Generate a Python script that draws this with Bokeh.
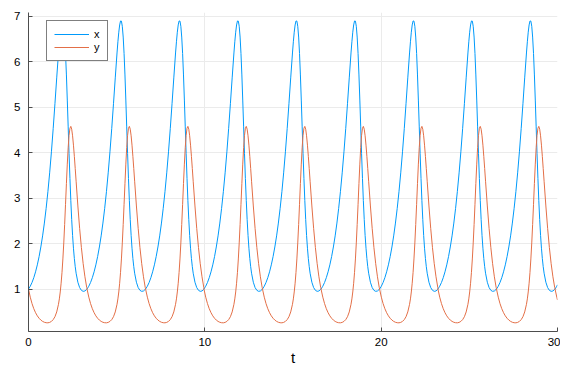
from bokeh.plotting import figure
from bokeh.models import Range1d, Legend, LegendItem, FixedTicker
from bokeh.embed import file_html
from bokeh.resources import INLINE

# ---- data (x = prey, y = predator) ----
t_values = [
    0.00, 0.10, 0.20, 0.30, 0.40, 0.50, 0.60, 0.70, 0.80, 0.90, 1.00, 1.10, 1.20, 1.30, 1.40, 1.50, 1.60, 1.70, 1.75, 1.80, 1.85, 1.90, 1.95, 2.00, 2.05, 2.10, 2.15, 2.20, 2.25, 2.30, 2.35, 2.40, 2.45, 2.50, 2.55, 2.60, 2.65, 2.70, 2.80, 2.90, 3.00, 3.10, 3.20, 3.30,
    3.32, 3.42, 3.52, 3.62, 3.72, 3.82, 3.92, 4.02, 4.12, 4.22, 4.32, 4.42, 4.52, 4.62, 4.72, 4.82, 4.92, 5.02, 5.07, 5.12, 5.17, 5.22, 5.27, 5.32, 5.37, 5.42, 5.47, 5.52, 5.57, 5.62, 5.67, 5.72, 5.77, 5.82, 5.87, 5.92, 5.97, 6.02, 6.12, 6.22, 6.32, 6.42, 6.52, 6.62,
    6.64, 6.74, 6.84, 6.94, 7.04, 7.14, 7.24, 7.34, 7.44, 7.54, 7.64, 7.74, 7.84, 7.94, 8.04, 8.14, 8.24, 8.34, 8.39, 8.44, 8.49, 8.54, 8.59, 8.64, 8.69, 8.74, 8.79, 8.84, 8.89, 8.94, 8.99, 9.04, 9.09, 9.14, 9.19, 9.24, 9.29, 9.34, 9.44, 9.54, 9.64, 9.74, 9.84, 9.94,
    9.95, 10.05, 10.15, 10.25, 10.35, 10.45, 10.55, 10.65, 10.75, 10.85, 10.95, 11.05, 11.15, 11.25, 11.35, 11.45, 11.55, 11.65, 11.70, 11.75, 11.80, 11.85, 11.90, 11.95, 12.00, 12.05, 12.10, 12.15, 12.20, 12.25, 12.30, 12.35, 12.40, 12.45, 12.50, 12.55, 12.60, 12.65, 12.75, 12.85, 12.95, 13.05, 13.15, 13.25,
    13.27, 13.37, 13.47, 13.57, 13.67, 13.77, 13.87, 13.97, 14.07, 14.17, 14.27, 14.37, 14.47, 14.57, 14.67, 14.77, 14.87, 14.97, 15.02, 15.07, 15.12, 15.17, 15.22, 15.27, 15.32, 15.37, 15.42, 15.47, 15.52, 15.57, 15.62, 15.67, 15.72, 15.77, 15.82, 15.87, 15.92, 15.97, 16.07, 16.17, 16.27, 16.37, 16.47, 16.57,
    16.59, 16.69, 16.79, 16.89, 16.99, 17.09, 17.19, 17.29, 17.39, 17.49, 17.59, 17.69, 17.79, 17.89, 17.99, 18.09, 18.19, 18.29, 18.34, 18.39, 18.44, 18.49, 18.54, 18.59, 18.64, 18.69, 18.74, 18.79, 18.84, 18.89, 18.94, 18.99, 19.04, 19.09, 19.14, 19.19, 19.24, 19.29, 19.39, 19.49, 19.59, 19.69, 19.79, 19.89,
    19.91, 20.01, 20.11, 20.21, 20.31, 20.41, 20.51, 20.61, 20.71, 20.81, 20.91, 21.01, 21.11, 21.21, 21.31, 21.41, 21.51, 21.61, 21.66, 21.71, 21.76, 21.81, 21.86, 21.91, 21.96, 22.01, 22.06, 22.11, 22.16, 22.21, 22.26, 22.31, 22.36, 22.41, 22.46, 22.51, 22.56, 22.61, 22.71, 22.81, 22.91, 23.01, 23.11, 23.21,
    23.22, 23.32, 23.42, 23.52, 23.62, 23.72, 23.82, 23.92, 24.02, 24.12, 24.22, 24.32, 24.42, 24.52, 24.62, 24.72, 24.82, 24.92, 24.97, 25.02, 25.07, 25.12, 25.17, 25.22, 25.27, 25.32, 25.37, 25.42, 25.47, 25.52, 25.57, 25.62, 25.67, 25.72, 25.77, 25.82, 25.87, 25.92, 26.02, 26.12, 26.22, 26.32, 26.42, 26.52,
    26.54, 26.64, 26.74, 26.84, 26.94, 27.04, 27.14, 27.24, 27.34, 27.44, 27.54, 27.64, 27.74, 27.84, 27.94, 28.04, 28.14, 28.24, 28.29, 28.34, 28.39, 28.44, 28.49, 28.54, 28.59, 28.64, 28.69, 28.74, 28.79, 28.84, 28.89, 28.94, 28.99, 29.04, 29.09, 29.14, 29.19, 29.24, 29.34, 29.44, 29.54, 29.64, 29.74, 29.84,
    29.86, 29.96, 30.00,
]

x_values = [
    1.000, 1.061, 1.144, 1.249, 1.378, 1.531, 1.712, 1.924, 2.168, 2.450, 2.773, 3.140, 3.554, 4.017, 4.526, 5.074, 5.642, 6.190, 6.436, 6.647, 6.806, 6.894, 6.891, 6.777, 6.540, 6.179, 5.707, 5.155, 4.565, 3.977, 3.430, 2.942, 2.526, 2.179, 1.897, 1.671, 1.491, 1.348, 1.149, 1.032, 0.971, 0.949, 0.957, 0.992,
    1.000, 1.061, 1.144, 1.249, 1.378, 1.531, 1.712, 1.924, 2.168, 2.450, 2.773, 3.140, 3.554, 4.017, 4.526, 5.074, 5.642, 6.190, 6.436, 6.647, 6.806, 6.894, 6.891, 6.777, 6.540, 6.179, 5.707, 5.155, 4.565, 3.977, 3.430, 2.942, 2.526, 2.179, 1.897, 1.671, 1.491, 1.348, 1.149, 1.032, 0.971, 0.949, 0.957, 0.992,
    1.000, 1.061, 1.144, 1.249, 1.378, 1.531, 1.712, 1.924, 2.168, 2.450, 2.773, 3.140, 3.554, 4.017, 4.526, 5.074, 5.642, 6.190, 6.436, 6.647, 6.806, 6.894, 6.891, 6.777, 6.540, 6.179, 5.707, 5.155, 4.565, 3.977, 3.430, 2.942, 2.526, 2.179, 1.897, 1.671, 1.491, 1.348, 1.149, 1.032, 0.971, 0.949, 0.957, 0.992,
    1.000, 1.061, 1.144, 1.249, 1.378, 1.531, 1.712, 1.924, 2.168, 2.450, 2.773, 3.140, 3.554, 4.017, 4.526, 5.074, 5.642, 6.190, 6.436, 6.647, 6.806, 6.894, 6.891, 6.777, 6.540, 6.179, 5.707, 5.155, 4.565, 3.977, 3.430, 2.942, 2.526, 2.179, 1.897, 1.671, 1.491, 1.348, 1.149, 1.032, 0.971, 0.949, 0.957, 0.992,
    1.000, 1.061, 1.144, 1.249, 1.378, 1.531, 1.712, 1.924, 2.168, 2.450, 2.773, 3.140, 3.554, 4.017, 4.526, 5.074, 5.642, 6.190, 6.436, 6.647, 6.806, 6.894, 6.891, 6.777, 6.540, 6.179, 5.707, 5.155, 4.565, 3.977, 3.430, 2.942, 2.526, 2.179, 1.897, 1.671, 1.491, 1.348, 1.149, 1.032, 0.971, 0.949, 0.957, 0.992,
    1.000, 1.061, 1.144, 1.249, 1.378, 1.531, 1.712, 1.924, 2.168, 2.450, 2.773, 3.140, 3.554, 4.017, 4.526, 5.074, 5.642, 6.190, 6.436, 6.647, 6.806, 6.894, 6.891, 6.777, 6.540, 6.179, 5.707, 5.155, 4.565, 3.977, 3.430, 2.942, 2.526, 2.179, 1.897, 1.671, 1.491, 1.348, 1.149, 1.032, 0.971, 0.949, 0.957, 0.992,
    1.000, 1.061, 1.144, 1.249, 1.378, 1.531, 1.712, 1.924, 2.168, 2.450, 2.773, 3.140, 3.554, 4.017, 4.526, 5.074, 5.642, 6.190, 6.436, 6.647, 6.806, 6.894, 6.891, 6.777, 6.540, 6.179, 5.707, 5.155, 4.565, 3.977, 3.430, 2.942, 2.526, 2.179, 1.897, 1.671, 1.491, 1.348, 1.149, 1.032, 0.971, 0.949, 0.957, 0.992,
    1.000, 1.061, 1.144, 1.249, 1.378, 1.531, 1.712, 1.924, 2.168, 2.450, 2.773, 3.140, 3.554, 4.017, 4.526, 5.074, 5.642, 6.190, 6.436, 6.647, 6.806, 6.894, 6.891, 6.777, 6.540, 6.179, 5.707, 5.155, 4.565, 3.977, 3.430, 2.942, 2.526, 2.179, 1.897, 1.671, 1.491, 1.348, 1.149, 1.032, 0.971, 0.949, 0.957, 0.992,
    1.000, 1.061, 1.144, 1.249, 1.378, 1.531, 1.712, 1.924, 2.168, 2.450, 2.773, 3.140, 3.554, 4.017, 4.526, 5.074, 5.642, 6.190, 6.436, 6.647, 6.806, 6.894, 6.891, 6.777, 6.540, 6.179, 5.707, 5.155, 4.565, 3.977, 3.430, 2.942, 2.526, 2.179, 1.897, 1.671, 1.491, 1.348, 1.149, 1.032, 0.971, 0.949, 0.957, 0.992,
    1.000, 1.061, 1.093,
]

y_values = [
    1.000, 0.821, 0.679, 0.567, 0.479, 0.410, 0.357, 0.317, 0.288, 0.269, 0.259, 0.257, 0.266, 0.288, 0.327, 0.391, 0.496, 0.664, 0.783, 0.935, 1.127, 1.367, 1.661, 2.013, 2.419, 2.862, 3.317, 3.746, 4.111, 4.380, 4.535, 4.576, 4.514, 4.369, 4.163, 3.917, 3.648, 3.370, 2.826, 2.334, 1.910, 1.557, 1.269, 1.036,
    1.000, 0.821, 0.679, 0.567, 0.479, 0.410, 0.357, 0.317, 0.288, 0.269, 0.259, 0.257, 0.266, 0.288, 0.327, 0.391, 0.496, 0.664, 0.783, 0.935, 1.127, 1.367, 1.661, 2.013, 2.419, 2.862, 3.317, 3.746, 4.111, 4.380, 4.535, 4.576, 4.514, 4.369, 4.163, 3.917, 3.648, 3.370, 2.826, 2.334, 1.910, 1.557, 1.269, 1.036,
    1.000, 0.821, 0.679, 0.567, 0.479, 0.410, 0.357, 0.317, 0.288, 0.269, 0.259, 0.257, 0.266, 0.288, 0.327, 0.391, 0.496, 0.664, 0.783, 0.935, 1.127, 1.367, 1.661, 2.013, 2.419, 2.862, 3.317, 3.746, 4.111, 4.380, 4.535, 4.576, 4.514, 4.369, 4.163, 3.917, 3.648, 3.370, 2.826, 2.334, 1.910, 1.557, 1.269, 1.036,
    1.000, 0.821, 0.679, 0.567, 0.479, 0.410, 0.357, 0.317, 0.288, 0.269, 0.259, 0.257, 0.266, 0.288, 0.327, 0.391, 0.496, 0.664, 0.783, 0.935, 1.127, 1.367, 1.661, 2.013, 2.419, 2.862, 3.317, 3.746, 4.111, 4.380, 4.535, 4.576, 4.514, 4.369, 4.163, 3.917, 3.648, 3.370, 2.826, 2.334, 1.910, 1.557, 1.269, 1.036,
    1.000, 0.821, 0.679, 0.567, 0.479, 0.410, 0.357, 0.317, 0.288, 0.269, 0.259, 0.257, 0.266, 0.288, 0.327, 0.391, 0.496, 0.664, 0.783, 0.935, 1.127, 1.367, 1.661, 2.013, 2.419, 2.862, 3.317, 3.746, 4.111, 4.380, 4.535, 4.576, 4.514, 4.369, 4.163, 3.917, 3.648, 3.370, 2.826, 2.334, 1.910, 1.557, 1.269, 1.036,
    1.000, 0.821, 0.679, 0.567, 0.479, 0.410, 0.357, 0.317, 0.288, 0.269, 0.259, 0.257, 0.266, 0.288, 0.327, 0.391, 0.496, 0.664, 0.783, 0.935, 1.127, 1.367, 1.661, 2.013, 2.419, 2.862, 3.317, 3.746, 4.111, 4.380, 4.535, 4.576, 4.514, 4.369, 4.163, 3.917, 3.648, 3.370, 2.826, 2.334, 1.910, 1.557, 1.269, 1.036,
    1.000, 0.821, 0.679, 0.567, 0.479, 0.410, 0.357, 0.317, 0.288, 0.269, 0.259, 0.257, 0.266, 0.288, 0.327, 0.391, 0.496, 0.664, 0.783, 0.935, 1.127, 1.367, 1.661, 2.013, 2.419, 2.862, 3.317, 3.746, 4.111, 4.380, 4.535, 4.576, 4.514, 4.369, 4.163, 3.917, 3.648, 3.370, 2.826, 2.334, 1.910, 1.557, 1.269, 1.036,
    1.000, 0.821, 0.679, 0.567, 0.479, 0.410, 0.357, 0.317, 0.288, 0.269, 0.259, 0.257, 0.266, 0.288, 0.327, 0.391, 0.496, 0.664, 0.783, 0.935, 1.127, 1.367, 1.661, 2.013, 2.419, 2.862, 3.317, 3.746, 4.111, 4.380, 4.535, 4.576, 4.514, 4.369, 4.163, 3.917, 3.648, 3.370, 2.826, 2.334, 1.910, 1.557, 1.269, 1.036,
    1.000, 0.821, 0.679, 0.567, 0.479, 0.410, 0.357, 0.317, 0.288, 0.269, 0.259, 0.257, 0.266, 0.288, 0.327, 0.391, 0.496, 0.664, 0.783, 0.935, 1.127, 1.367, 1.661, 2.013, 2.419, 2.862, 3.317, 3.746, 4.111, 4.380, 4.535, 4.576, 4.514, 4.369, 4.163, 3.917, 3.648, 3.370, 2.826, 2.334, 1.910, 1.557, 1.269, 1.036,
    1.000, 0.821, 0.758,
]

series_names = ["x", "y"]
series_colors = ["#009AFA", "#E36F47"]
x_ticks = [0, 10, 20, 30]
y_ticks = [1, 2, 3, 4, 5, 6, 7]
x_label = "t"

FONT = "Liberation Sans"

p = figure(
    width=560, height=368,
    output_backend="svg", toolbar_location=None,
    x_range=Range1d(0, 30), y_range=Range1d(0.066, 7.08),
    min_border_left=28, min_border_right=3, min_border_top=12, min_border_bottom=37,
)
p.background_fill_color = "white"
p.border_fill_color = "white"
p.outline_line_color = None

r1 = p.line(t_values, x_values, line_color=series_colors[0], line_width=1, line_join="round")
r2 = p.line(t_values, y_values, line_color=series_colors[1], line_width=1, line_join="round")

p.xaxis.ticker = FixedTicker(ticks=x_ticks)
p.yaxis.ticker = FixedTicker(ticks=y_ticks)
for ax in (p.xaxis[0], p.yaxis[0]):
    ax.major_tick_in = 4
    ax.major_tick_out = 0
    ax.minor_tick_line_color = None
    ax.axis_line_color = "#4d4d4d"
    ax.axis_line_width = 1
    ax.major_tick_line_color = "#4d4d4d"
    ax.major_label_text_font = FONT
    ax.major_label_text_font_size = "11.5px"
    ax.major_label_text_color = "black"
p.yaxis.major_label_standoff = 8
p.xaxis.major_label_standoff = 6
p.xaxis.axis_label = x_label
p.xaxis.axis_label_text_font = FONT
p.xaxis.axis_label_text_font_size = "15px"
p.xaxis.axis_label_text_font_style = "normal"
p.xaxis.axis_label_text_color = "black"
p.xaxis.axis_label_standoff = 0

p.xgrid.grid_line_color = "#ebebeb"
p.ygrid.grid_line_color = "#ebebeb"
p.xgrid.grid_line_width = 1
p.ygrid.grid_line_width = 1

legend = Legend(
    items=[LegendItem(label=series_names[0], renderers=[r1]),
           LegendItem(label=series_names[1], renderers=[r2])],
    location=(18, 270),
)
legend.border_line_color = "black"
legend.border_line_width = 1
legend.background_fill_color = "white"
legend.background_fill_alpha = 1.0
legend.label_text_font = FONT
legend.label_text_font_size = "11px"
legend.label_text_color = "black"
legend.glyph_width = 35
legend.glyph_height = 12
legend.label_height = 12
legend.label_width = 6
legend.label_standoff = 5
legend.spacing = 1
legend.padding = 7
legend.margin = 0
p.add_layout(legend)

open("out.html", "w").write(file_html(p, INLINE))
